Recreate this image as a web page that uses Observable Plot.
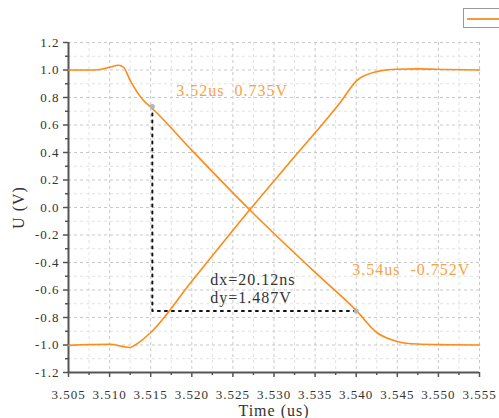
<!DOCTYPE html>
<html>
<head>
<meta charset="utf-8">
<script src="https://cdn.jsdelivr.net/npm/d3@7"></script>
<script src="https://cdn.jsdelivr.net/npm/@observablehq/plot@0.6"></script>
<style>
  body { margin: 0; background: #fff; }
  #wrap { position: relative; width: 499px; height: 418px; overflow: hidden; }
  #wrap svg text { letter-spacing: 1px; }
  #legend { position: absolute; left: 463px; top: 8px; width: 44px; height: 20px; border: 1.5px solid #9a9a9a; box-sizing: border-box; }
  #legend span { position: absolute; left: 3px; top: 9px; width: 40px; height: 1.5px; background: #f39a3c; }
</style>
</head>
<body>
<div id="wrap"><div id="legend"><span></span></div></div>
<script>
// ---- data ----
const fallT = [3.505, 3.508, 3.509, 3.510, 3.5111, 3.5117, 3.5125, 3.5141, 3.5152, 3.5201, 3.5271, 3.5352, 3.5400, 3.5425, 3.5450, 3.5474, 3.5510, 3.555];
const fallV = [1.000, 1.000, 1.005, 1.020, 1.035, 1.020, 0.925, 0.780, 0.720, 0.410, -0.020, -0.483, -0.748, -0.909, -0.974, -0.993, -0.998, -1.000];
const riseT = [3.505, 3.5101, 3.5115, 3.5125, 3.5133, 3.5150, 3.5199, 3.5270, 3.5320, 3.5381, 3.5401, 3.5425, 3.5450, 3.5474, 3.5510, 3.555];
const riseV = [-1.003, -0.995, -1.010, -1.018, -0.993, -0.909, -0.544, -0.020, 0.335, 0.767, 0.925, 0.988, 1.005, 1.008, 1.004, 1.000];

const markerT = [3.5152, 3.5400];
const markerV = [0.735, -0.752];
const markerLabels = ["3.52us  0.735V", "3.54us  -0.752V"];
const deltaLabels = ["dx=20.12ns", "dy=1.487V"];

const xMajor = [3.505, 3.510, 3.515, 3.520, 3.525, 3.530, 3.535, 3.540, 3.545, 3.550, 3.555];
const xTickLabels = ["3.505", "3.510", "3.515", "3.520", "3.525", "3.530", "3.535", "3.540", "3.545", "3.550", "3.555"];
const xMinor = [3.5075, 3.5125, 3.5175, 3.5225, 3.5275, 3.5325, 3.5375, 3.5425, 3.5475, 3.5525];
const yMajor = [-1.2, -1.0, -0.8, -0.6, -0.4, -0.2, 0.0, 0.2, 0.4, 0.6, 0.8, 1.0, 1.2];
const yTickLabels = ["-1.2", "-1.0", "-0.8", "-0.6", "-0.4", "-0.2", "0.0", "0.2", "0.4", "0.6", "0.8", "1.0", "1.2"];
const yMinor = [-1.1, -0.9, -0.7, -0.5, -0.3, -0.1, 0.1, 0.3, 0.5, 0.7, 0.9, 1.1];
const xLabel = "Time (us)";
const yLabel = "U (V)";

// ---- build tables ----
const fall = fallT.map((t, i) => ({t, v: fallV[i]}));
const rise = riseT.map((t, i) => ({t, v: riseV[i]}));
const markers = markerT.map((t, i) => ({t, v: markerV[i], label: markerLabels[i]}));
const guide = [
  {t: markerT[0], v: markerV[0]},
  {t: markerT[0], v: markerV[1]},
  {t: markerT[1], v: markerV[1]}
];
const xDom = [xMajor[0], xMajor[xMajor.length - 1]];
const yDom = [yMajor[0], yMajor[yMajor.length - 1]];

const curveColor = "#ff8a14";
const textOrange = "#f7a345";

const chart = Plot.plot({
  width: 499,
  height: 418,
  marginLeft: 68,
  marginRight: 20,
  marginTop: 42,
  marginBottom: 46,
  x: {domain: xDom},
  y: {domain: yDom},
  style: {fontFamily: "'Liberation Serif', serif", background: "white", color: "#333"},
  marks: [
    Plot.gridX(xMinor, {stroke: "#e2e2e2", strokeOpacity: 1, strokeDasharray: "3,3"}),
    Plot.gridY(yMinor, {stroke: "#e2e2e2", strokeOpacity: 1, strokeDasharray: "3,3"}),
    Plot.gridX(xMajor, {stroke: "#c8c8c8", strokeOpacity: 1, strokeDasharray: "3,3"}),
    Plot.gridY(yMajor, {stroke: "#c8c8c8", strokeOpacity: 1, strokeDasharray: "3,3"}),
    Plot.axisX(xMajor, {tickSize: 5, tickPadding: 12, fontSize: 13, stroke: "#555", strokeWidth: 1.5,
      tickFormat: d => xTickLabels[xMajor.indexOf(d)], label: null, fill: "#333"}),
    Plot.axisX(xMinor, {tickSize: 3, tickFormat: null, text: null, label: null, stroke: "#555", strokeWidth: 1.5}),
    Plot.axisY(yMajor, {tickSize: 5, tickPadding: 4, fontSize: 13, stroke: "#555", strokeWidth: 1.5,
      tickFormat: d => yTickLabels[yMajor.indexOf(d)], label: null, fill: "#333"}),
    Plot.axisY(yMinor, {tickSize: 3, tickFormat: null, text: null, label: null, stroke: "#555", strokeWidth: 1.5}),
    Plot.ruleX([xDom[0]], {stroke: "#555", strokeWidth: 2}),
    Plot.ruleY([yDom[0]], {stroke: "#555", strokeWidth: 2}),
    Plot.line(guide, {x: "t", y: "v", stroke: "#111", strokeWidth: 2, strokeDasharray: "2,5"}),
    Plot.line(fall, {x: "t", y: "v", stroke: curveColor, strokeWidth: 1.6, curve: "monotone-x"}),
    Plot.line(rise, {x: "t", y: "v", stroke: curveColor, strokeWidth: 1.6, curve: "monotone-x"}),
    Plot.dot(markers, {x: "t", y: "v", r: 2.5, fill: "#b5b5b5", stroke: "none"}),
    Plot.text([markers[0]], {x: "t", y: "v", text: "label", dx: 24, dy: -16, textAnchor: "start", fill: textOrange, fontSize: 16}),
    Plot.text([markers[1]], {x: "t", y: "v", text: "label", dx: -4, dy: -41, textAnchor: "start", fill: textOrange, fontSize: 16}),
    Plot.text([deltaLabels[0]], {x: () => markerT[0], y: () => markerV[1], text: d => d, dx: 58, dy: -31, textAnchor: "start", fill: "#333", fontSize: 16}),
    Plot.text([deltaLabels[1]], {x: () => markerT[0], y: () => markerV[1], text: d => d, dx: 58, dy: -13, textAnchor: "start", fill: "#333", fontSize: 16}),
    Plot.text([xLabel], {x: () => (xDom[0] + xDom[1]) / 2, y: () => yDom[0], text: d => d, dy: 38, fill: "#333", fontSize: 16}),
    Plot.text([yLabel], {x: () => xDom[0], y: () => 0, text: d => d, dx: -50, rotate: -90, fill: "#333", fontSize: 16})
  ]
});
document.getElementById("wrap").prepend(chart);
</script>
</body>
</html>
